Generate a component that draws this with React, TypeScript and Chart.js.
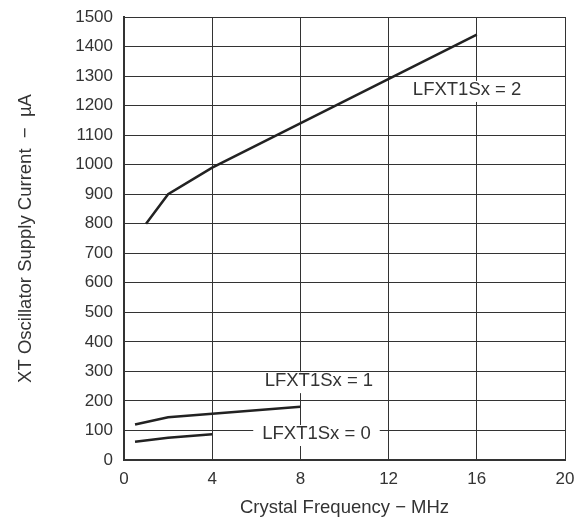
import React, { useEffect, useRef } from "react";
import { Chart, registerables } from "chart.js";

Chart.register(...registerables);

const xTicks = [0, 4, 8, 12, 16, 20];
const sx2X = [1, 2, 4, 16];
const sx2Y = [800, 900, 990, 1440];
const sx1X = [0.5, 2, 8];
const sx1Y = [120, 145, 180];
const sx0X = [0.5, 2, 4];
const sx0Y = [62, 75, 87];
const curveLabels = ["LFXT1Sx = 2", "LFXT1Sx = 1", "LFXT1Sx = 0"];
const labelAnchorX = [15.56, 8.84, 8.73];
const labelAnchorY = [1253, 267, 88];

const FONT = "'Liberation Sans', Arial, sans-serif";
const INK = "#222";
const TEXT = "#333";

const toPts = (xs: number[], ys: number[]) => xs.map((x, i) => ({ x, y: ys[i] }));

const labelPlugin = {
  id: "curveLabels",
  afterDatasetsDraw(chart: any) {
    const { ctx, scales } = chart;
    ctx.save();
    ctx.font = `18.5px ${FONT}`;
    ctx.textAlign = "center";
    ctx.textBaseline = "middle";
    curveLabels.forEach((t, i) => {
      const cx = scales.x.getPixelForValue(labelAnchorX[i]);
      const cy = scales.y.getPixelForValue(labelAnchorY[i]);
      const w = ctx.measureText(t).width;
      ctx.fillStyle = "#fff";
      ctx.fillRect(cx - w / 2 - 9, cy - 9, w + 18, 21);
      ctx.fillStyle = TEXT;
      ctx.fillText(t, cx, cy);
    });
    ctx.restore();
  },
};

export default function App() {
  const ref = useRef<HTMLCanvasElement | null>(null);
  useEffect(() => {
    if (!ref.current) return;
    const ds = (xs: number[], ys: number[]) => ({
      data: toPts(xs, ys),
      borderColor: INK,
      borderWidth: 2.5,
      pointRadius: 0,
      tension: 0,
      fill: false,
    });
    const chart = new Chart(ref.current, {
      type: "line",
      data: { datasets: [ds(sx2X, sx2Y), ds(sx1X, sx1Y), ds(sx0X, sx0Y)] },
      plugins: [labelPlugin],
      options: {
        responsive: false,
        animation: false,
        devicePixelRatio: 1,
        layout: { padding: { top: 17, right: 16, left: 0, bottom: 0 } },
        plugins: { legend: { display: false }, tooltip: { enabled: false } },
        scales: {
          x: {
            type: "linear",
            min: 0,
            max: 20,
            afterBuildTicks: (s: any) => {
              s.ticks = xTicks.map((v) => ({ value: v }));
            },
            afterFit: (s: any) => {
              s.height = 60;
              s.paddingLeft = 0;
              s.paddingRight = 0;
            },
            grid: { color: "#333", lineWidth: 1, drawTicks: false },
            border: { color: "#333", width: 2 },
            ticks: {
              color: TEXT,
              font: { size: 17, family: FONT },
              padding: 9,
              maxRotation: 0,
              callback: (v: any) => String(v),
            },
            title: {
              display: true,
              text: "Crystal Frequency − MHz",
              color: TEXT,
              font: { size: 18.5, family: FONT },
              padding: { top: 0, bottom: 1 },
            },
          },
          y: {
            type: "linear",
            min: 0,
            max: 1500,
            ticks: {
              stepSize: 100,
              color: TEXT,
              font: { size: 17, family: FONT },
              padding: 11,
              callback: (v: any) => String(v),
            },
            afterFit: (s: any) => {
              s.width = 124;
              s.paddingTop = 0;
              s.paddingBottom = 0;
            },
            grid: { color: "#333", lineWidth: 1, drawTicks: false },
            border: { color: "#333", width: 2 },
            title: {
              display: true,
              text: "XT Oscillator Supply Current  −  µA",
              color: TEXT,
              font: { size: 18.5, family: FONT },
              padding: { top: 15, bottom: 0 },
            },
          },
        },
      },
    } as any);
    return () => chart.destroy();
  }, []);
  return (
    <div style={{ position: "fixed", left: 0, top: 0, width: 581, height: 520, background: "#fff" }}>
      <canvas ref={ref} width={581} height={520} style={{ display: "block" }} />
    </div>
  );
}
